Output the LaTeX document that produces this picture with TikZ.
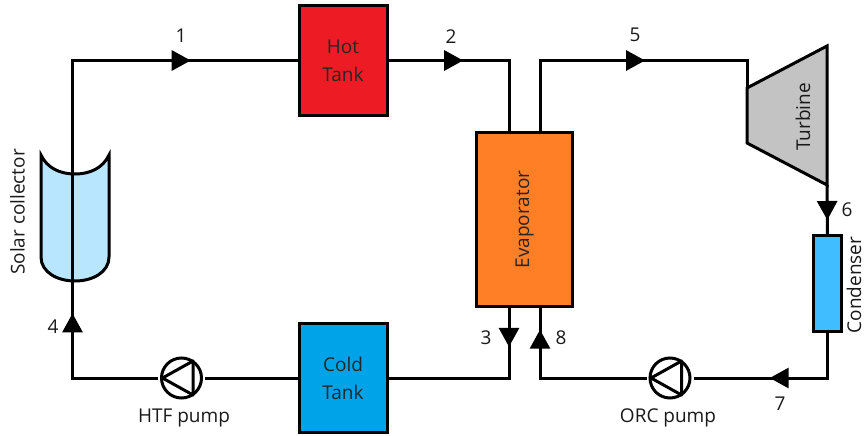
\documentclass[tikz,border=0pt]{standalone}
\usepackage{fontspec}
\setmainfont{Open Sans}
\usepackage{tikz}
\usetikzlibrary{arrows.meta,decorations.markings}
\definecolor{hotred}{HTML}{ED1C24}
\definecolor{coldblue}{HTML}{00A2E8}
\definecolor{evaporange}{HTML}{FF7F27}
\definecolor{condblue}{HTML}{3FBDFF}
\definecolor{solarblue}{HTML}{B9E6FF}
\definecolor{turbgray}{HTML}{C3C3C3}
\tikzset{
  pipe/.style={line width=3pt},
  unit/.style={draw,line width=3pt,inner sep=0pt,align=center,text=black!85},
  pumpc/.style={draw,circle,line width=3pt,minimum size=40pt,inner sep=0pt,outer sep=3.5pt},
  lab/.style={inner sep=0pt,text=black!90},
  tipat/.style={postaction={decorate,decoration={markings,
    mark=at position #1 with {\arrow{Triangle[length=19pt,width=20pt]}}}}}
}
\begin{document}
\begin{tikzpicture}[x=1pt,y=-1pt,font=\fontsize{19}{28}\selectfont]
\useasboundingbox (0,0) rectangle (865,436);
% components
\node[unit,fill=hotred,minimum width=88pt,minimum height=110pt] (hot) at (343,60.5) {Hot\\Tank};
\node[unit,fill=coldblue,minimum width=88pt,minimum height=109pt] (cold) at (343,378) {Cold\\Tank};
\node[unit,fill=evaporange,minimum width=96pt,minimum height=174pt] (evap) at (524.5,219.5) {\rotatebox{90}{Evaporator}};
\node[unit,fill=condblue,minimum width=28pt,minimum height=96pt] (cond) at (827.5,283.5) {};
\node[pumpc] (hpump) at (181.5,378) {};
\node[pumpc] (opump) at (670,378) {};
\foreach \p in {hpump,opump}
  \draw[pipe,line join=round] ([xshift=-19pt]\p.center) -- ([xshift=11.5pt,yshift=-17pt]\p.center)
    -- ([xshift=11.5pt,yshift=17pt]\p.center) -- cycle;
\draw[pipe,fill=solarblue] (41,155) .. controls (47,168) and (60,174) .. (75,174)
  .. controls (90,174) and (103,168) .. (109,155) -- (109,257)
  .. controls (109,272) and (93,281) .. (75,281)
  .. controls (57,281) and (41,272) .. (41,257) -- cycle;
\draw[pipe,fill=turbgray,line join=miter] (747,88) coordinate (turbin) -- (827,46) -- (827,185) coordinate (turbout) -- (747,143) -- cycle;
% evaporator and condenser ports
\coordinate (evapa) at (509,132);
\coordinate (evapb) at (540,132);
\coordinate (evapc) at (509,307);
\coordinate (evapd) at (540,307);
\coordinate (condin) at (827.5,235);
\coordinate (condout) at (827.5,331);
\coordinate (solarc) at (72.5,60.5);
\coordinate (solard) at (72.5,378);
% pipes
\draw[pipe,tipat=0.239,tipat=0.83] (hpump) -- (solard) -- (solarc) -- (hot);
\draw[pipe,tipat=0.389] (hot) -| (evapa);
\draw[pipe,tipat=0.208] (evapc) |- (cold);
\draw[pipe] (cold) -- (hpump);
\draw[pipe,tipat=0.577] (evapb) |- (turbin |- solarc) -- (turbin);
\draw[pipe,tipat=0.7] (turbout) -- (condin);
\draw[pipe,tipat=0.579] (condout) |- (opump);
\draw[pipe,tipat=0.872] (opump) -| (evapd);
% labels
\node[lab,rotate=90] (solarl) at (17.5,212) {Solar collector};
\node[lab,rotate=90] (turbl) at (803,117) {Turbine};
\node[lab,rotate=90] (condl) at (854,285) {Condenser};
\node[lab] (hpumpl) at (184,418) {HTF pump};
\node[lab] (opumpl) at (668,418) {ORC pump};
\node[lab] (n1) at (181,36) {1};
\node[lab] (n2) at (451,37) {2};
\node[lab] (n3) at (486,338) {3};
\node[lab] (n4) at (53,327) {4};
\node[lab] (n5) at (635,35) {5};
\node[lab] (n6) at (847,210) {6};
\node[lab] (n7) at (780,404) {7};
\node[lab] (n8) at (561,338) {8};
\end{tikzpicture}
\end{document}
